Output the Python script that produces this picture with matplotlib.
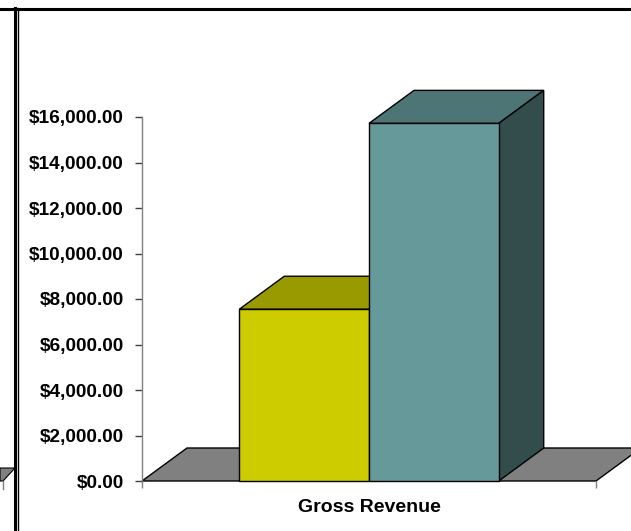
import matplotlib
matplotlib.use('Agg')
import matplotlib.pyplot as plt
from matplotlib.patches import Polygon
from matplotlib.lines import Line2D
from matplotlib.ticker import FuncFormatter

# Chart data
CATEGORY = 'Gross Revenue'
SERIES_VALUES = [7550, 15720]
FRONT_COLORS = ['#CCCC00', '#669999']
TOP_COLORS = ['#999900', '#4D7575']
SIDE_COLORS = ['#8C8C00', '#334D4D']
Y_TICKS = [0, 2000, 4000, 6000, 8000, 10000, 12000, 14000, 16000]

W, H, DPI = 631, 531, 100
DEPTH_PX = (45, 33)  # 3D depth offset in pixels
plt.rcParams['font.family'] = ['Liberation Sans', 'DejaVu Sans']
plt.rcParams['font.weight'] = 'bold'

fig = plt.figure(figsize=(W / DPI, H / DPI), dpi=DPI)
ax_l, ax_b, ax_w, ax_h = 142, 50, 454, 364
ax = fig.add_axes([ax_l / W, ax_b / H, ax_w / W, ax_h / H])
ax.set_xlim(-0.5, 0.5)
ax.set_ylim(0, 16000)

# depth in data units
ddx = DEPTH_PX[0] / ax_w * 1.0
ddy = DEPTH_PX[1] / ax_h * 16000

# floor
x0, x1 = ax.get_xlim()
floor = Polygon([(x0, 0), (x1, 0), (x1 + ddx, ddy), (x0 + ddx, ddy)],
                closed=True, facecolor='#808080', edgecolor='black',
                linewidth=1, clip_on=False, zorder=1)
ax.add_patch(floor)

# bars (gap width 150%)
bw = 1.0 / (len(SERIES_VALUES) + 1.5)
start = -bw * len(SERIES_VALUES) / 2
for i, v in enumerate(SERIES_VALUES):
    bl = start + i * bw
    br = bl + bw
    top = Polygon([(bl, v), (br, v), (br + ddx, v + ddy), (bl + ddx, v + ddy)],
                  facecolor=TOP_COLORS[i], edgecolor='black', linewidth=1,
                  clip_on=False, zorder=2 + i)
    side = Polygon([(br, 0), (br + ddx, ddy), (br + ddx, v + ddy), (br, v)],
                   facecolor=SIDE_COLORS[i], edgecolor='black', linewidth=1,
                   clip_on=False, zorder=2 + i)
    front = Polygon([(bl, 0), (br, 0), (br, v), (bl, v)],
                    facecolor=FRONT_COLORS[i], edgecolor='black', linewidth=1,
                    clip_on=False, zorder=2 + i)
    for p in (top, side, front):
        ax.add_patch(p)

# axes styling
for s in ['top', 'right', 'bottom']:
    ax.spines[s].set_visible(False)
ax.spines['left'].set_color('#808080')
ax.spines['left'].set_linewidth(1)
ax.set_yticks(Y_TICKS)
ax.yaxis.set_major_formatter(FuncFormatter(lambda v, p: '${:,.2f}'.format(v)))
ax.tick_params(axis='y', length=5, width=1, color='#404040', pad=8,
               labelsize=13.7)
ax.set_xticks([0])
ax.set_xticklabels([CATEGORY], fontsize=14, fontweight='bold')
ax.tick_params(axis='x', length=0, pad=13)
ax.set_xticks([x0, x1], minor=True)
ax.tick_params(axis='x', which='minor', length=5, width=1, color='#808080',
               direction='out')
for t in ax.get_yticklabels():
    t.set_fontweight('bold')
ax.patch.set_alpha(0)

# border lines and fragment of neighbouring chart
def px(x, y):
    return x / W, 1 - y / H

fig.add_artist(Line2D([0, 1], [px(0, 8.5)[1]] * 2, color='black', lw=2.2))
fig.add_artist(Line2D([px(15, 0)[0]] * 2, [0, px(0, 8)[1]], color='black', lw=2.2))
fig.add_artist(Line2D([px(18.3, 0)[0]] * 2, [0, px(0, 8)[1]], color='black', lw=1))
frag = Polygon([px(0, 468), px(15, 468), px(3, 481), px(0, 481)],
               closed=True, facecolor='#808080', edgecolor='black', lw=0.8,
               transform=fig.transFigure)
fig.add_artist(frag)
fig.add_artist(Line2D([px(3, 0)[0]] * 2, [px(0, 481)[1], px(0, 489)[1]],
                      color='#808080', lw=1))

fig.savefig('out.png', dpi=DPI)
